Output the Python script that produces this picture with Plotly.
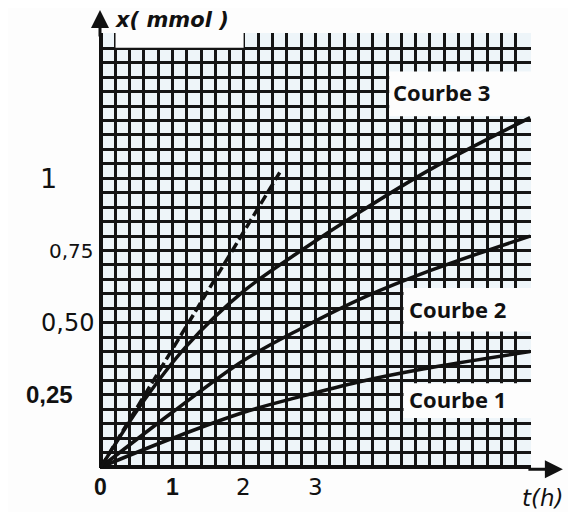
import plotly.graph_objects as go

# ---- data ----
t_c1 = [0, 1.0, 2.0, 2.8, 3.6, 4.5, 6.0]
x_c1 = [0, 0.10, 0.19, 0.245, 0.295, 0.34, 0.40]

t_c2 = [0, 1.0, 2.0, 2.8, 3.7, 4.6, 6.0]
x_c2 = [0, 0.19, 0.37, 0.48, 0.59, 0.68, 0.80]

t_c3 = [0, 0.6, 1.2, 2.0, 2.8, 3.6, 4.6, 6.0]
x_c3 = [0, 0.23, 0.42, 0.61, 0.75, 0.88, 1.03, 1.21]

t_tan = [0, 2.5]
x_tan = [0, 1.02]

x_ticks = [0, 1, 2, 3]
x_tick_labels = ["0", "1", "2", "3"]
y_ticks = [0.25, 0.50, 0.75, 1.0]
y_tick_labels = ["0,25", "0,50", "0,75", "1"]

curve_labels = ["Courbe 1", "Courbe 2", "Courbe 3"]

grid_x = [round(0.2 * i, 2) for i in range(31)]
grid_y = [round(0.05 * i, 3) for i in range(31)]

fig = go.Figure()

line_style = dict(color="#111111", width=3.5)
for t, x in [(t_c1, x_c1), (t_c2, x_c2), (t_c3, x_c3)]:
    fig.add_trace(go.Scatter(x=t, y=x, mode="lines", line=dict(**line_style, shape="spline"),
                             showlegend=False, hoverinfo="skip"))
fig.add_trace(go.Scatter(x=t_tan, y=x_tan, mode="lines",
                         line=dict(color="#111111", width=3.5, dash="10px,4px"),
                         showlegend=False, hoverinfo="skip"))

# white areas where the grid is cut away
white = "#fdfdfd"
boxes = [
    (0.205, 1.995, 1.452, 1.6),   # behind x(mmol)
    (4.03, 6.3, 1.215, 1.37),     # Courbe 3
    (4.23, 6.3, 0.47, 0.62),      # Courbe 2
    (4.23, 6.3, 0.17, 0.29),      # Courbe 1
]
for x0, x1, y0, y1 in boxes:
    fig.add_shape(type="rect", xref="x", yref="y", x0=x0, x1=x1, y0=y0, y1=y1,
                  fillcolor=white, line=dict(width=0), layer="between")

# axis arrows (heads beyond the grid)
fig.add_annotation(x=0, y=1.053, xref="paper", yref="paper", ax=0, ay=28,
                   showarrow=True, arrowhead=2, arrowsize=1.2, arrowwidth=3, arrowcolor="#111111", text="")
fig.add_annotation(x=1.074, y=-0.003, xref="paper", yref="paper", ax=-36, ay=0,
                   showarrow=True, arrowhead=2, arrowsize=1.2, arrowwidth=3, arrowcolor="#111111", text="")

# tick labels
hand = "DejaVu Sans"
for v, lab in zip(x_ticks, x_tick_labels):
    bold = lab in ("0", "1")
    fig.add_annotation(x=v, y=0, xref="x", yref="paper", yshift=-34, text=lab, showarrow=False,
                       xanchor="center",
                       font=dict(family="Liberation Sans" if bold else hand, size=23,
                                 color="#111111", weight="bold" if bold else "normal"))
y_shift = {"0,25": -26, "0,50": -5, "0,75": -5, "1": -42}
y_size = {"0,25": 24, "0,50": 24, "0,75": 20, "1": 27}
for v, lab in zip(y_ticks, y_tick_labels):
    bold = lab == "0,25"
    fig.add_annotation(x=0, y=v, xref="x", yref="y", text=lab, showarrow=False,
                       xanchor="right", xshift=y_shift[lab],
                       font=dict(family="Liberation Sans" if bold else hand, size=y_size[lab],
                                 color="#111111", weight="bold" if bold else "normal"))

# curve labels
label_pos = {"Courbe 1": (4.28, 0.235), "Courbe 2": (4.28, 0.548), "Courbe 3": (4.06, 1.30)}
for lab in curve_labels:
    px, py = label_pos[lab]
    fig.add_annotation(x=px, y=py, xref="x", yref="y", text=lab, showarrow=False,
                       xanchor="left", font=dict(family="Open Sans", size=22, color="#111111",
                                                 weight="bold"))

# axis titles
fig.add_annotation(x=0.167, y=1.03, xref="paper", yref="paper", text="x( mmol )", showarrow=False,
                   xanchor="center", yanchor="middle",
                   font=dict(family="DejaVu Sans", size=21, color="#111111", style="italic",
                             weight="bold"))
fig.add_annotation(x=1.027, y=-0.068, xref="paper", yref="paper", text="t(h)", showarrow=False,
                   xanchor="center", yanchor="middle",
                   font=dict(family="DejaVu Sans", size=23, color="#111111", style="italic"))

axis_common = dict(showgrid=True, gridcolor="#151515", gridwidth=2.6, showticklabels=False,
                   ticks="", showline=False, fixedrange=True)
fig.update_xaxes(range=[-0.012, 6.012], tickvals=grid_x, zeroline=True, zerolinecolor="#111111",
                 zerolinewidth=3.5, **axis_common)
fig.update_yaxes(range=[-0.003, 1.503], tickvals=grid_y, zeroline=True, zerolinecolor="#111111",
                 zerolinewidth=3.5, **axis_common)

fig.update_layout(width=568, height=504, margin=dict(l=92, r=45, t=25, b=44),
                  paper_bgcolor="#fdfdfd", plot_bgcolor="#eef5f9", showlegend=False)

fig.write_html("out.html")
